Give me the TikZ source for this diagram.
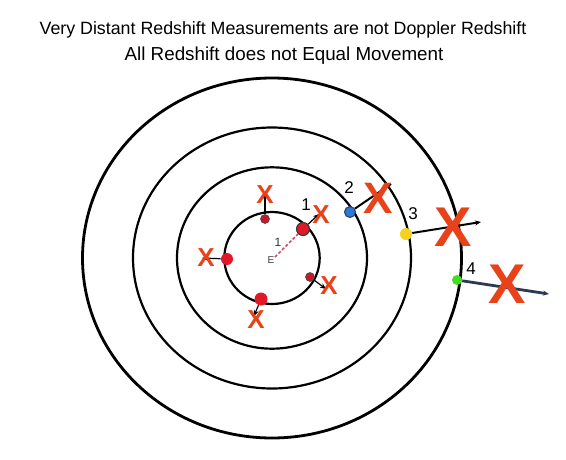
\documentclass[tikz,border=0pt]{standalone}
\usepackage{fontspec}
\setmainfont{Liberation Sans}
\usetikzlibrary{arrows.meta}
\definecolor{xred}{HTML}{E8421A}
\definecolor{dotred}{HTML}{E01828}
\definecolor{dotdark}{HTML}{C41A2C}
\definecolor{dotblue}{HTML}{2C7AD6}
\definecolor{dotyellow}{HTML}{F5D21E}
\definecolor{dotgreen}{HTML}{44DD22}
\definecolor{navy}{HTML}{2A3A55}
\definecolor{dashpink}{HTML}{C8506A}
\begin{document}
\begin{tikzpicture}[x=1pt,y=-1pt,
  ring/.style={draw=black,line width=2.2pt},
  dotnode/.style={circle,draw=black!70,line width=0.6pt,inner sep=0pt},
  xsmall/.style={text=xred,inner sep=0pt,font=\bfseries\fontsize{26}{26}\selectfont},
  xmid/.style={text=xred,inner sep=0pt,font=\bfseries\fontsize{44}{44}\selectfont},
  xbig/.style={text=xred,inner sep=0pt,font=\bfseries\fontsize{56}{56}\selectfont},
  numlabel/.style={inner sep=0pt,font=\fontsize{17}{17}\selectfont},
  motion/.style={draw=black,line width=1.6pt,-{Stealth[length=6pt,width=5pt]}},
  titletext/.style={inner sep=0pt,anchor=base,font=\fontsize{17.8}{17.8}\selectfont}
]
\useasboundingbox (0,0) rectangle (566,459);
\fill[white] (0,0) rectangle (566,459);

% title
\node[titletext] (t1) at (283,34) {Very Distant Redshift Measurements are not Doppler Redshift};
\node[titletext,font=\fontsize{18.8}{18.8}\selectfont] (t2) at (284,60.7) {All Redshift does not Equal Movement};

% rings
\coordinate (c) at (272,258);
\draw[ring,line width=2.8pt] (c) ellipse [x radius=189.5pt, y radius=180pt];
\draw[ring] (c) ellipse [x radius=139pt, y radius=130.5pt];
\draw[ring] (c) ellipse [x radius=95pt, y radius=90.7pt];
\draw[ring] (c) ellipse [x radius=47.7pt, y radius=46pt];

% earth
\node[inner sep=0pt,text=black!75,font=\fontsize{10}{10}\selectfont] (E) at (271,260) {E};
\node[inner sep=0pt,text=black!80,font=\fontsize{12}{12}\selectfont] (one) at (278,242) {1};

% end points of motions
\coordinate (ea) at (265,193);
\coordinate (eb) at (319,214);
\coordinate (ec) at (202,258);
\coordinate (ed) at (254,316);
\coordinate (ee) at (326,289);
\coordinate (ef) at (391,184);
\coordinate (eg) at (481,222);
\coordinate (eh) at (549,294);

% dots
\node[dotnode,fill=dotdark,minimum size=9pt] (da) at (265,219) {};
\node[dotnode,fill=dotred,minimum size=13pt,draw=black!80,line width=1pt] (db) at (303,229) {};
\node[dotnode,fill=dotred,minimum size=12pt,draw=none] (dc) at (227,259) {};
\node[dotnode,fill=dotred,minimum size=13pt,draw=none] (dd) at (261,299) {};
\node[dotnode,fill=dotdark,minimum size=9pt] (de) at (310,277) {};
\node[dotnode,fill=dotblue,minimum size=11pt,draw=navy,line width=1pt] (df) at (350,212) {};
\node[dotnode,fill=dotyellow,minimum size=12pt,draw=none] (dg) at (406,234) {};
\node[dotnode,fill=dotgreen,minimum size=10pt,draw=none] (dh) at (457,280) {};

% dashed line from Earth
\draw[dashpink,line width=1.6pt,dash pattern=on 3pt off 2pt] (275,257) -- (db);

% motions
\draw[motion,line width=1.2pt] (da) -- (ea);
\draw[motion,line width=1.2pt] (db) -- (eb);
\draw[motion,line width=1.2pt] (dc) -- (ec);
\draw[motion,line width=1.2pt] (dd) -- (ed);
\draw[motion,line width=1.2pt] (de) -- (ee);
\draw[draw=black,line width=2pt] (df) -- (ef);
\draw[motion,line width=2pt] (dg) -- (eg);
\draw[motion,draw=navy,line width=2.8pt] (dh) -- (eh);

% crosses
\node[xsmall] (xa) at (265,195) {X};
\node[xsmall] (xb) at (321,215) {X};
\node[xsmall] (xc) at (206,258) {X};
\node[xsmall] (xd) at (256,320) {X};
\node[xsmall] (xe) at (329,286) {X};
\node[xmid] (xf) at (378,198) {X};
\node[xbig] (xg) at (453,227) {X};
\node[xbig] (xh) at (507,284) {X};

% labels
\node[numlabel] (lb) at (306,205) {1};
\node[numlabel] (lf) at (349,188) {2};
\node[numlabel] (lg) at (413,214) {3};
\node[numlabel] (lh) at (471,269) {4};
\end{tikzpicture}
\end{document}
